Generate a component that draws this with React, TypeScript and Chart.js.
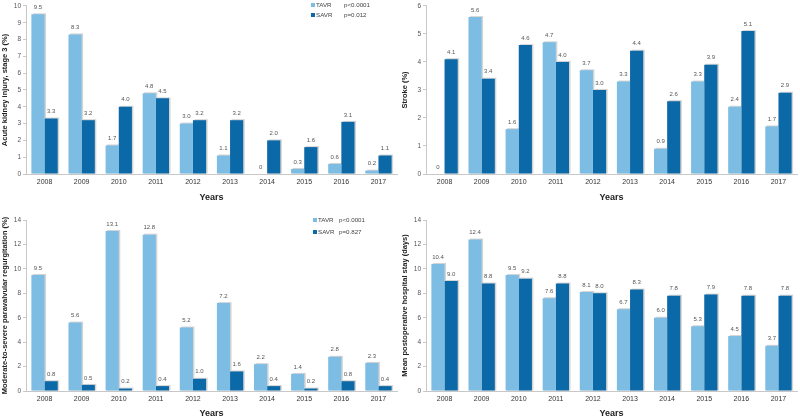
import React, { useEffect, useRef } from "react";
import { Chart, registerables } from "chart.js";

Chart.register(...registerables);

const years = ["2008", "2009", "2010", "2011", "2012", "2013", "2014", "2015", "2016", "2017"];

const akiTavr = [9.5, 8.3, 1.7, 4.8, 3.0, 1.1, 0, 0.3, 0.6, 0.2];
const akiSavr = [3.3, 3.2, 4.0, 4.5, 3.2, 3.2, 2.0, 1.6, 3.1, 1.1];

const strokeTavr = [0, 5.6, 1.6, 4.7, 3.7, 3.3, 0.9, 3.3, 2.4, 1.7];
const strokeSavr = [4.1, 3.4, 4.6, 4.0, 3.0, 4.4, 2.6, 3.9, 5.1, 2.9];

const pvrTavr = [9.5, 5.6, 13.1, 12.8, 5.2, 7.2, 2.2, 1.4, 2.8, 2.3];
const pvrSavr = [0.8, 0.5, 0.2, 0.4, 1.0, 1.6, 0.4, 0.2, 0.8, 0.4];

const losTavr = [10.4, 12.4, 9.5, 7.6, 8.1, 6.7, 6.0, 5.3, 4.5, 3.7];
const losSavr = [9.0, 8.8, 9.2, 8.8, 8.0, 8.3, 7.8, 7.9, 7.8, 7.8];

const seriesNames = ["TAVR", "SAVR"];
const akiP = ["p<0.0001", "p=0.012"];
const strokeP = ["p=0.190", "p=0.828"];
const pvrP = ["p<0.0001", "p=0.827"];
const losP = ["p<0.0001", "p<0.0001"];

const TAVR_COLOR = "#7dbde4";
const SAVR_COLOR = "#0b69a7";
const FONT = "'Liberation Sans', Arial, sans-serif";

type PanelProps = {
  left: number;
  top: number;
  width: number;
  height: number;
  tavr: number[];
  savr: number[];
  pvals: string[];
  yTitle: string;
  yMax: number;
  yStep: number;
  padTop: number;
  titlePad: number;
  legendX: number;
  legendY: number;
  legendPX: number;
  legendGap: number;
};

function Panel(p: PanelProps) {
  const ref = useRef<HTMLCanvasElement | null>(null);
  useEffect(() => {
    if (!ref.current) return;
    const axisLeft = 26;
    const plotBottom = p.height - (p.height === 209 ? 35 : 28);

    const shadowPlugin = {
      id: "shadow",
      beforeDatasetsDraw(chart: any) {
        const ctx = chart.ctx;
        ctx.save();
        ctx.fillStyle = "#d4d4d4";
        chart.data.datasets.forEach((ds: any, i: number) => {
          const meta = chart.getDatasetMeta(i);
          meta.data.forEach((el: any, j: number) => {
            if (!ds.data[j]) return;
            const { x, y, base, width } = el.getProps(["x", "y", "base", "width"], true);
            ctx.fillRect(x - width / 2 + 1.5, y - 1, width, base - y + 1);
          });
        });
        ctx.restore();
      },
    };

    const labelPlugin = {
      id: "vlabels",
      afterDatasetsDraw(chart: any) {
        const ctx = chart.ctx;
        ctx.save();
        ctx.font = `6px ${FONT}`;
        ctx.fillStyle = "#555";
        ctx.textAlign = "center";
        ctx.textBaseline = "bottom";
        chart.data.datasets.forEach((ds: any, i: number) => {
          const meta = chart.getDatasetMeta(i);
          meta.data.forEach((el: any, j: number) => {
            const v = ds.data[j];
            const { x, y } = el.getProps(["x", "y"], true);
            const txt = v === 0 ? "0" : v.toFixed(1);
            ctx.fillText(txt, x, y - 4);
          });
        });
        ctx.restore();
      },
    };

    const legendPlugin = {
      id: "customLegend",
      afterDraw(chart: any) {
        const ctx = chart.ctx;
        ctx.save();
        ctx.font = `6.2px ${FONT}`;
        ctx.textBaseline = "middle";
        ctx.textAlign = "left";
        chart.data.datasets.forEach((ds: any, i: number) => {
          const y = p.legendY + i * p.legendGap;
          ctx.fillStyle = ds.backgroundColor;
          ctx.fillRect(p.legendX, y - 2, 4, 4);
          ctx.fillStyle = "#444";
          ctx.fillText(ds.label, p.legendX + 5, y);
          ctx.fillText(p.pvals[i], p.legendPX, y);
        });
        ctx.restore();
      },
    };

    const chart = new Chart(ref.current, {
      type: "bar",
      data: {
        labels: years,
        datasets: [
          { label: seriesNames[0], data: p.tavr, backgroundColor: TAVR_COLOR },
          { label: seriesNames[1], data: p.savr, backgroundColor: SAVR_COLOR },
        ],
      },
      options: {
        responsive: false,
        animation: false,
        devicePixelRatio: 1,
        layout: { padding: { top: p.padTop, right: 3, left: 0, bottom: 0 } },
        plugins: { legend: { display: false }, tooltip: { enabled: false } },
        datasets: { bar: { categoryPercentage: 0.71, barPercentage: 1.0 } },
        scales: {
          x: {
            grid: { display: true, drawOnChartArea: false, drawTicks: false, color: "#ccc" },
            border: { color: "#c8c8c8" },
            ticks: { font: { size: 7, family: FONT }, color: "#333", padding: 4, maxRotation: 0 },
            title: {
              display: true,
              text: "Years",
              font: { size: 9, weight: "bold", family: FONT },
              color: "#222",
              padding: { top: 0, bottom: p.titlePad },
            },
            afterFit(scale: any) {
              scale.height = p.height - plotBottom;
            },
          },
          y: {
            min: 0,
            max: p.yMax,
            grid: { display: true, drawOnChartArea: false, drawTicks: true, tickLength: 3, color: "#c8c8c8" },
            border: { color: "#c8c8c8" },
            ticks: { stepSize: p.yStep, font: { size: 6.5, family: FONT }, color: "#555", padding: 2 },
            title: {
              display: true,
              text: p.yTitle,
              font: { size: 7.5, weight: "bold", family: FONT },
              color: "#222",
              padding: { top: 0, bottom: 0 },
            },
            afterFit(scale: any) {
              scale.width = axisLeft;
            },
          },
        },
      },
      plugins: [shadowPlugin, labelPlugin, legendPlugin],
    } as any);
    return () => chart.destroy();
  }, []);
  return (
    <canvas
      ref={ref}
      width={p.width}
      height={p.height}
      style={{ position: "absolute", left: p.left, top: p.top, width: p.width, height: p.height, display: "block" }}
    />
  );
}

export default function App() {
  return (
    <div style={{ position: "fixed", left: 0, top: 0, width: 800, height: 419, background: "#fff", overflow: "hidden" }}>
      <Panel left={0} top={0} width={400} height={209} tavr={akiTavr} savr={akiSavr} pvals={akiP}
        yTitle="Acute kidney injury, stage 3 (%)" yMax={10} yStep={1} padTop={4} titlePad={6.5}
        legendX={311} legendY={5} legendPX={344} legendGap={10} />
      <Panel left={400} top={0} width={400} height={209} tavr={strokeTavr} savr={strokeSavr} pvals={strokeP}
        yTitle="Stroke (%)" yMax={6} yStep={1} padTop={5} titlePad={6.5}
        legendX={712} legendY={5} legendPX={739} legendGap={10} />
      <Panel left={0} top={209} width={400} height={210} tavr={pvrTavr} savr={pvrSavr} pvals={pvrP}
        yTitle="Moderate-to-severe paravalvular regurgitation (%)" yMax={14} yStep={2} padTop={11} titlePad={0.5}
        legendX={313} legendY={11} legendPX={339} legendGap={12} />
      <Panel left={400} top={209} width={400} height={210} tavr={losTavr} savr={losSavr} pvals={losP}
        yTitle="Mean postoperative hospital stay (days)" yMax={14} yStep={2} padTop={11} titlePad={0.5}
        legendX={714} legendY={18} legendPX={740} legendGap={12} />
    </div>
  );
}
